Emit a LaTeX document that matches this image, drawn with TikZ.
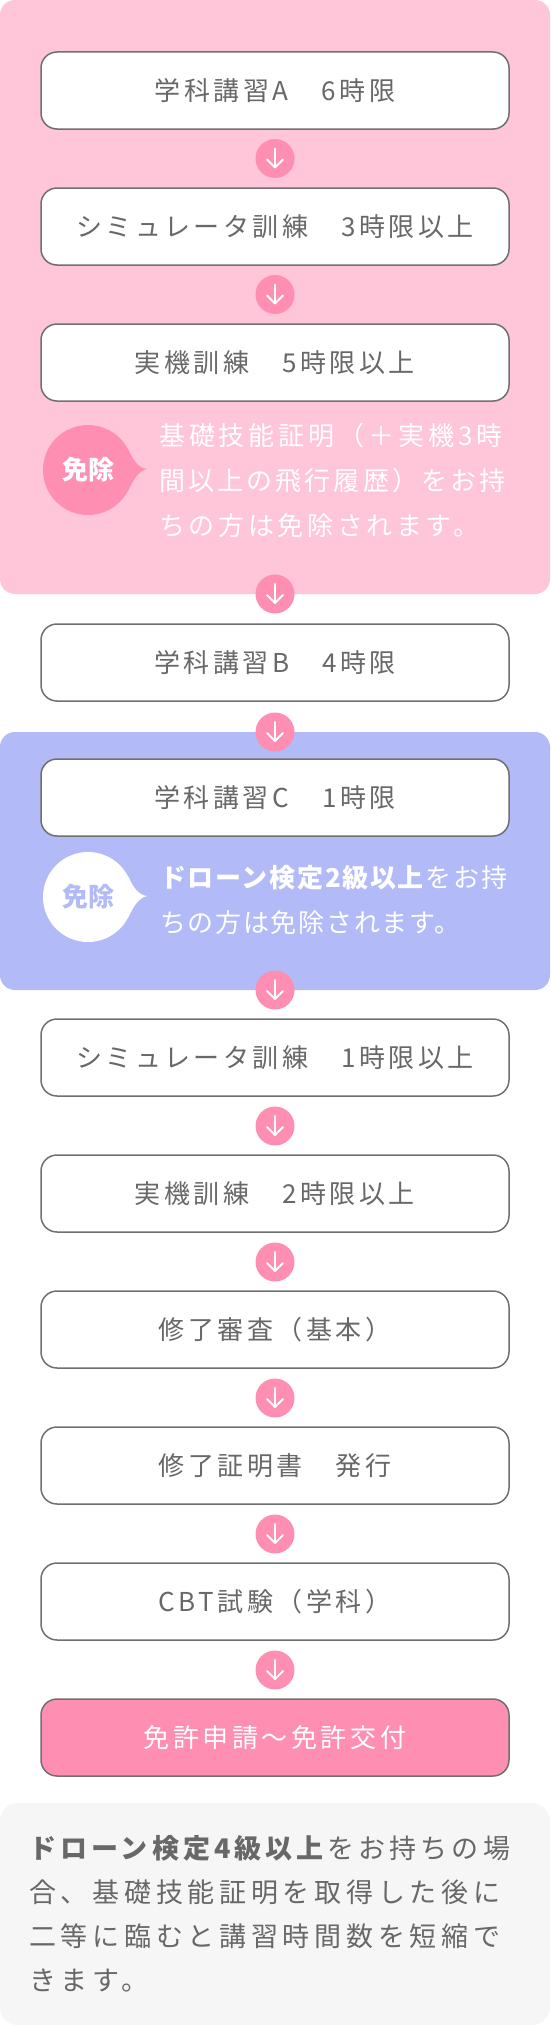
\documentclass[tikz,border=0pt]{standalone}
\usepackage{fontspec}
\usetikzlibrary{calc}
\setmainfont{Noto Sans CJK JP}
\newfontfamily\boxfont[LetterSpace=13.5]{Noto Sans CJK JP}
\newfontfamily\pinkfontA[LetterSpace=15]{Noto Sans CJK JP}
\newfontfamily\pinkfontB[LetterSpace=12]{Noto Sans CJK JP}
\newfontfamily\pinkfontC[LetterSpace=14]{Noto Sans CJK JP}
\newfontfamily\bluefont[LetterSpace=6.5]{Noto Sans CJK JP}
\newfontfamily\grayfontA[LetterSpace=15]{Noto Sans CJK JP}
\newfontfamily\grayfontB[LetterSpace=17.5]{Noto Sans CJK JP}
\newfontfamily\badgefont{Noto Sans CJK JP}
\definecolor{pinkbg}{HTML}{FFC5D8}
\definecolor{accent}{HTML}{FF8FB2}
\definecolor{bluebg}{HTML}{B2BAF7}
\definecolor{graybg}{HTML}{F6F6F6}
\definecolor{textgray}{HTML}{686868}
\definecolor{linegray}{HTML}{707070}
\newcommand{\dotarrow}[1]{%
  \draw[arrowline] ($(#1)+(0,-10)$) -- ($(#1)+(0,9)$);
  \draw[arrowline] ($(#1)+(-8,1)$) -- ($(#1)+(0,9)$) -- ($(#1)+(8,1)$);}
\newcommand{\bubbletail}[2]{%
  \fill[#2] ($(#1)+(40,-21)$) .. controls ($(#1)+(46,-8)$) and ($(#1)+(51,-2)$) .. ($(#1)+(59,-1)$)
    .. controls ($(#1)+(51,1)$) and ($(#1)+(46,8)$) .. ($(#1)+(40,21)$) -- cycle;}
\begin{document}
\begin{tikzpicture}[x=1pt,y=-1pt,
  stepbox/.style={draw=linegray, line width=1.5pt, fill=white, rounded corners=16pt,
    minimum width=468pt, minimum height=77pt, inner sep=0pt, text=textgray,
    font=\boxfont\fontsize{26pt}{30pt}\selectfont},
  finalbox/.style={stepbox, fill=accent, text=white},
  arrowdot/.style={circle, fill=accent, minimum size=39pt, inner sep=0pt},
  arrowline/.style={draw=white, line width=1.8pt, line cap=round, line join=round},
  badge/.style={circle, minimum size=90pt, inner sep=0pt,
    font=\badgefont\bfseries\fontsize{26pt}{30pt}\selectfont},
  wline/.style={anchor=base west, inner sep=0pt, text=white},
  gline/.style={anchor=base west, inner sep=0pt, text=textgray}]
\useasboundingbox (0,0) rectangle (550,2026);
% regions
\fill[pinkbg, rounded corners=15pt] (0,0) rectangle (550,594);
\fill[bluebg, rounded corners=15pt] (0,732) rectangle (550,990);
\fill[graybg, rounded corners=18pt] (0,1803) rectangle (550,2025);
% step boxes
\node[stepbox] (b1) at (275,90.5) {学科講習A　6時限};
\node[stepbox] (b2) at (275,226.5) {シミュレータ訓練　3時限以上};
\node[stepbox] (b3) at (275,362.5) {実機訓練　5時限以上};
\node[stepbox] (b4) at (275,662.5) {学科講習B　4時限};
\node[stepbox] (b5) at (275,797.5) {学科講習C　1時限};
\node[stepbox] (b6) at (275,1057.5) {シミュレータ訓練　1時限以上};
\node[stepbox] (b7) at (275,1193.5) {実機訓練　2時限以上};
\node[stepbox] (b8) at (275,1329.5) {修了審査（基本）};
\node[stepbox] (b9) at (275,1465.5) {修了証明書　発行};
\node[stepbox] (b10) at (275,1601.5) {CBT試験（学科）};
\node[finalbox] (b11) at (275,1737.5) {免許申請〜免許交付};
% arrow dots
\node[arrowdot] (a1) at (275,158.5) {};
\node[arrowdot] (a2) at (275,294.5) {};
\node[arrowdot] (a3) at (275,594) {};
\node[arrowdot] (a4) at (275,732) {};
\node[arrowdot] (a5) at (275,990) {};
\node[arrowdot] (a6) at (275,1126) {};
\node[arrowdot] (a7) at (275,1262) {};
\node[arrowdot] (a8) at (275,1398) {};
\node[arrowdot] (a9) at (275,1534) {};
\node[arrowdot] (a10) at (275,1670) {};
\foreach \n in {a1,a2,a3,a4,a5,a6,a7,a8,a9,a10}{\dotarrow{\n}}
% exemption 1
\node[badge, fill=accent, text=white] (m1) at (88,470) {免除};
\bubbletail{m1}{accent}
\node[wline] (p1) at (159,445) {\pinkfontA\fontsize{26pt}{30pt}\selectfont 基礎技能証明（＋実機3時};
\node[wline] (p2) at (159,490) {\pinkfontB\fontsize{26pt}{30pt}\selectfont 間以上の飛行履歴）をお持};
\node[wline] (p3) at (159,535) {\pinkfontC\fontsize{26pt}{30pt}\selectfont ちの方は免除されます。};
% exemption 2
\node[badge, fill=white, text=bluebg] (m2) at (88,897) {免除};
\bubbletail{m2}{white}
\node[wline] (q1) at (160,887) {\bluefont\fontsize{26pt}{30pt}\selectfont\textbf{ドローン検定2級以上}をお持};
\node[wline] (q2) at (160,932) {\bluefont\fontsize{26pt}{30pt}\selectfont ちの方は免除されます。};
% note
\node[gline] (n1) at (29,1858) {\grayfontA\fontsize{27pt}{30pt}\selectfont\textbf{ドローン検定4級以上}をお持ちの場};
\node[gline] (n2) at (29,1902) {\grayfontB\fontsize{27pt}{30pt}\selectfont 合、基礎技能証明を取得した後に};
\node[gline] (n3) at (29,1946) {\grayfontB\fontsize{27pt}{30pt}\selectfont 二等に臨むと講習時間数を短縮で};
\node[gline] (n4) at (29,1990) {\grayfontB\fontsize{27pt}{30pt}\selectfont きます。};
\end{tikzpicture}
\end{document}
